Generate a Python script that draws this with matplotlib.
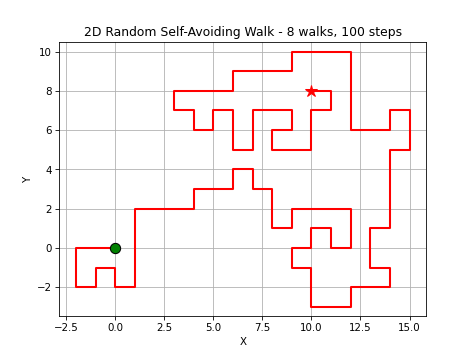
import matplotlib
matplotlib.use("Agg")
import matplotlib.pyplot as plt

# Corner points of the walk (unit lattice steps)
walk_x = [0, -2, -2, -1, -1, 0, 0, 1, 1, 4, 4, 6, 6, 7, 7, 8, 8, 9, 9, 12,
          12, 11, 11, 10, 10, 9, 9, 10, 10, 12, 12, 14, 14, 13, 13, 14, 14,
          15, 15, 14, 14, 12, 12, 9, 9, 6, 6, 3, 3, 4, 4, 5, 5, 6, 6, 7, 7,
          9, 9, 8, 8, 10, 10, 11, 11, 10]
walk_y = [0, 0, -2, -2, -1, -1, -2, -2, 2, 2, 3, 3, 4, 4, 3, 3, 1, 1, 2, 2,
          0, 0, 1, 1, 0, 0, -1, -1, -3, -3, -2, -2, -1, -1, 1, 1, 5,
          5, 7, 7, 6, 6, 10, 10, 9, 9, 8, 8, 7, 7, 6, 6, 7, 7, 5, 5, 7,
          7, 6, 6, 5, 5, 7, 7, 8, 8]

fig = plt.figure(figsize=(6.4, 4.8))
plt.plot(walk_x, walk_y, color='red', linewidth=2)
plt.plot(walk_x[0], walk_y[0], 'o', color='green', markeredgecolor='black',
         markersize=10)
plt.plot(walk_x[-1], walk_y[-1], '*', color='red', markersize=12)

plt.title("2D Random Self-Avoiding Walk - 8 walks, 100 steps")
plt.xlabel("X")
plt.ylabel("Y")
plt.grid(True)
plt.axis('equal')

plt.savefig("out.png", dpi=74)
